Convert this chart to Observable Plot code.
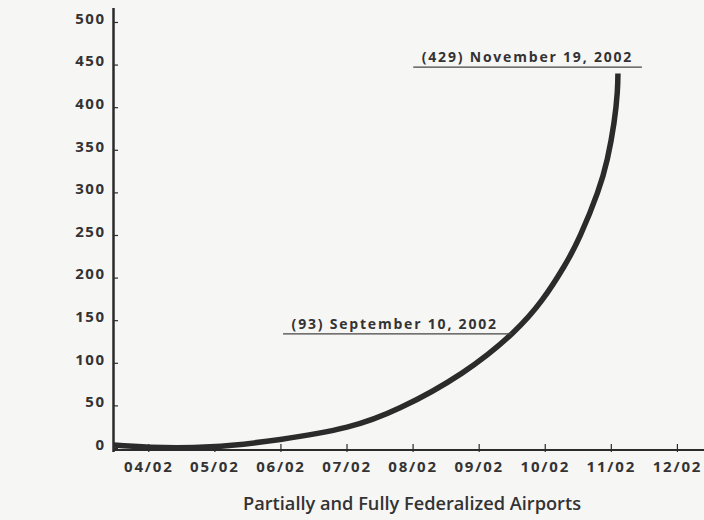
<!DOCTYPE html>
<html>
<head>
<meta charset="utf-8">
<script src="https://cdn.jsdelivr.net/npm/d3@7"></script>
<script src="https://cdn.jsdelivr.net/npm/@observablehq/plot@0.6"></script>
<style>
  html, body { margin: 0; padding: 0; background: #f6f6f5; }
  body { position: relative; width: 704px; height: 520px; overflow: hidden; }
  #chart svg { display: block; }
  #title { position: absolute; left: 412px; top: 491px; transform: translateX(-50%); white-space: nowrap;
           font-family: "Open Sans", sans-serif; font-weight: 600; font-size: 18.2px; color: #333; line-height: 24px; }
</style>
</head>
<body>
<div id="chart"></div>
<div id="title">Partially and Fully Federalized Airports</div>
<script>
// month index: 0 = 04/02, 1 = 05/02, ... 8 = 12/02
const monthIndex = [-0.534, 0.026, 0.93, 1.99, 3.0, 3.81, 4.74, 5.50, 5.95, 6.28, 6.53, 6.79, 6.94, 7.04, 7.09, 7.10];
const airports   = [4, 1.5, 2, 10.6, 25, 48, 88.5, 135, 174, 213, 250, 300, 340, 382, 418, 440];

const xTickValues = [0, 1, 2, 3, 4, 5, 6, 7, 8];
const xTickLabels = ["04/02", "05/02", "06/02", "07/02", "08/02", "09/02", "10/02", "11/02", "12/02"];
const yTickValues = [0, 50, 100, 150, 200, 250, 300, 350, 400, 450, 500];

const annoLabels = ["(93) September 10, 2002", "(429) November 19, 2002"];
const annoX1 = [2.04, 4.01];
const annoX2 = [5.50, 7.47];
const annoY  = [134.6, 447.5];

const series = monthIndex.map((m, i) => ({m, v: airports[i]}));
const annotations = annoLabels.map((label, i) => ({label, x1: annoX1[i], x2: annoX2[i], y: annoY[i]}));

const ink = "#2b2b2b";
const xDomain = [-0.534, 8.41];

const chart = Plot.plot({
  width: 704,
  height: 484,
  marginLeft: 113,
  marginRight: 0,
  marginTop: 8,
  marginBottom: 32,
  style: {background: "transparent", fontFamily: "Open Sans, sans-serif", color: "#333"},
  x: {domain: xDomain},
  y: {domain: [-4.7, 516.4]},
  marks: [
    // x ticks (inward) and labels
    Plot.axisX({
      ticks: xTickValues,
      tickFormat: (d, i) => xTickLabels[i],
      tickSize: -8,
      tickPadding: 17,
      label: null,
      fontSize: 15,
      fontWeight: 700,
      fill: "#333",
      stroke: ink,
      strokeWidth: 1.2
    }),
    // y ticks (inward)
    Plot.axisY({
      ticks: yTickValues,
      tickSize: -5,
      tickFormat: () => "",
      label: null,
      stroke: ink,
      strokeWidth: 1.2
    }),
    // y labels
    Plot.axisY({
      ticks: yTickValues,
      tickSize: 0,
      tickPadding: 8,
      label: null,
      fontSize: 15,
      fontWeight: 700,
      fill: "#333",
      dy: -3.5
    }),
    Plot.ruleX([xDomain[0]], {stroke: ink, strokeWidth: 2.5}),
    Plot.ruleY([0], {stroke: ink, strokeWidth: 2, dy: 1.5}),
    Plot.line(series, {x: "m", y: "v", curve: "natural", stroke: ink, strokeWidth: 5.5, strokeLinecap: "butt"}),
    Plot.ruleY(annotations, {y: "y", x1: "x1", x2: "x2", stroke: "#444", strokeWidth: 1.3}),
    Plot.text(annotations, {
      x: "x1", y: "y", text: "label",
      textAnchor: "start", lineAnchor: "bottom",
      dx: 8, dy: -5,
      fontSize: 14, fontWeight: 700, fill: "#333"
    })
  ]
});
// enforce label typography on every text element according to its group
d3.select(chart).selectAll("text").each(function() {
  const g = this.closest("g");
  const label = g ? (g.getAttribute("aria-label") || "") : "";
  const t = d3.select(this);
  if (label.includes("x-axis")) {
    t.attr("font-size", 15).style("font-size", "15px").style("font-weight", "700").style("letter-spacing", "1.8px");
  } else if (label.includes("y-axis")) {
    t.attr("font-size", 15).style("font-size", "15px").style("font-weight", "700").style("letter-spacing", "1.5px");
  } else {
    t.style("font-size", "14px").style("font-weight", "700").style("letter-spacing", "1.8px");
  }
});
document.getElementById("chart").append(chart);
</script>
</body>
</html>
